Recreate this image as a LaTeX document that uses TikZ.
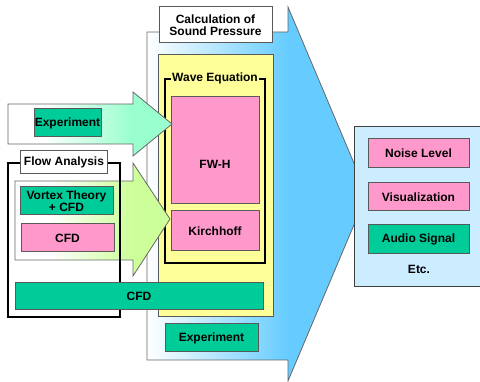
\documentclass[tikz,border=0pt]{standalone}
\usepackage{fontspec}
\setsansfont{Liberation Sans}
\usetikzlibrary{positioning}
\usepackage{xcolor}

\definecolor{arrowblue}{HTML}{66CCFF}
\definecolor{mintgreen}{HTML}{99FFCC}
\definecolor{limegreen}{HTML}{CCFF99}
\definecolor{boxgreen}{HTML}{00CC99}
\definecolor{boxpink}{HTML}{FF99CC}
\definecolor{paleyellow}{HTML}{FFFF99}
\definecolor{paleblue}{HTML}{CCECFF}

\pgfdeclarehorizontalshading{bluefade}{100bp}{color(0bp)=(white); color(25bp)=(white); color(57bp)=(arrowblue); color(100bp)=(arrowblue)}
\pgfdeclarehorizontalshading{mintfade}{100bp}{color(0bp)=(white); color(36bp)=(white); color(63bp)=(mintgreen); color(100bp)=(mintgreen)}
\pgfdeclarehorizontalshading{limefade}{100bp}{color(0bp)=(white); color(36bp)=(white); color(63bp)=(limegreen); color(100bp)=(limegreen)}

\begin{document}
\begin{tikzpicture}[
    x=1pt, y=-1pt,
    font=\sffamily\bfseries\fontsize{12}{12.5}\selectfont,
    box/.style={rectangle, draw=black!65, line width=1pt, inner sep=0pt, align=center},
    pinkbox/.style={box, fill=boxpink},
    greenbox/.style={box, fill=boxgreen},
    whitebox/.style={box, fill=white},
    frame/.style={rectangle, draw=black, line width=2pt, inner sep=0pt},
    flow/.style={draw=black!60, line width=0.8pt}
]
    \useasboundingbox (0,0) rectangle (480,382);

    % big arrow towards the results
    \shadedraw[flow, shading=bluefade] (147,32) -- (288,32) -- (288,7) -- (367,194)
        -- (288,381) -- (288,360) -- (147,360) -- cycle;

    \node[whitebox, minimum width=113, minimum height=36] (calc) at (215.5,25) {Calculation of\\Sound Pressure};

    \node[box, fill=paleyellow, minimum width=115, minimum height=262] (acoustic) at (215.5,186) {};

    \node[frame, minimum width=100, minimum height=184] (wave) at (215,171) {};
    \node[fill=paleyellow, inner xsep=1pt, inner ysep=0pt] (wavelbl) at (wave.north) {Wave Equation};

    \node[pinkbox, minimum width=88, minimum height=107, label={[yshift=-14pt]center:FW-H}] (fwh) at (215,150.5) {};
    \node[pinkbox, minimum width=88, minimum height=40] (kirch) at (215,231) {Kirchhoff};

    % input arrows
    \shadedraw[flow, shading=mintfade] (8,104) -- (133,104) -- (133,92) -- (172,124)
        -- (133,156) -- (133,144) -- (8,144) -- cycle;
    \shadedraw[flow, shading=limefade] (15,181) -- (133,181) -- (133,163) -- (170,219)
        -- (133,276) -- (133,260) -- (15,260) -- cycle;

    \node[greenbox, minimum width=67, minimum height=28] (exptop) at (67.5,123) {Experiment};

    \node[frame, minimum width=112, minimum height=154] (flowfr) at (64,240) {};
    \node[whitebox, minimum width=87, minimum height=23] (flowlbl) at (flowfr.north) {Flow Analysis};

    \node[greenbox, minimum width=93, minimum height=28] (vortex) at (66.5,201) {Vortex Theory\\+ CFD};
    \node[pinkbox, minimum width=93, minimum height=28] (cfd) at (67.5,238) {CFD};

    \node[greenbox, minimum width=248, minimum height=27] (cfdbar) at (139,296.5) {CFD};
    \node[greenbox, minimum width=93, minimum height=28] (expbot) at (211.5,338) {Experiment};

    % results
    \node[box, draw=black!75, fill=paleblue, minimum width=130, minimum height=160] (results) at (419,207) {};
    \node[pinkbox, minimum width=101, minimum height=29] (noise) at (418.5,153.5) {Noise Level};
    \node[pinkbox, minimum width=101, minimum height=28, below=14pt of noise] (visual) {Visualization};
    \node[greenbox, minimum width=101, minimum height=29, below=13pt of visual] (audio) {Audio Signal};
    \node (etc) at (419,269) {Etc.};
\end{tikzpicture}
\end{document}
